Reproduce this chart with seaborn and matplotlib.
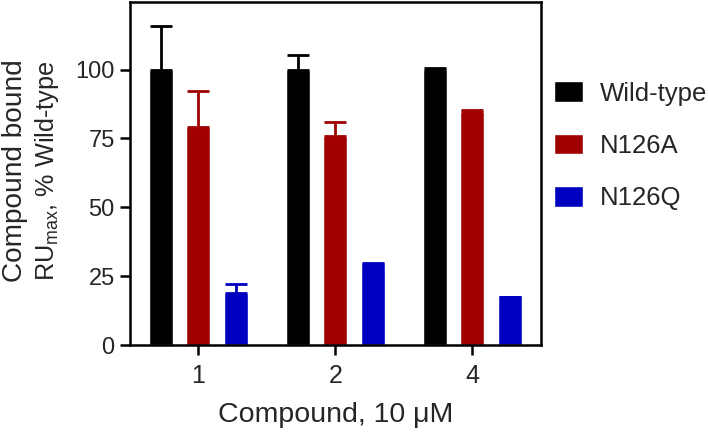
import matplotlib
matplotlib.use("Agg")
import matplotlib.pyplot as plt
import pandas as pd
import seaborn as sns

compounds = ["1", "2", "4"]
variants = ["Wild-type", "N126A", "N126Q"]
wild_type = [100.0, 100.0, 100.0]
wild_type_err = [15.7, 5.4, 0.7]
n126a = [79.3, 75.8, 84.5]
n126a_err = [13.1, 5.2, 1.0]
n126q = [18.9, 29.3, 17.3]
n126q_err = [3.2, 0.4, 0.3]
colors = {"Wild-type": "#000000", "N126A": "#A00000", "N126Q": "#0000C0"}


def main():
    sns.set_style("ticks")
    plt.rcParams["font.family"] = ["Liberation Sans", "DejaVu Sans"]
    plt.rcParams["mathtext.fontset"] = "custom"
    plt.rcParams["mathtext.rm"] = "Liberation Sans"
    plt.rcParams["mathtext.it"] = "Liberation Sans"

    values = {"Wild-type": wild_type, "N126A": n126a, "N126Q": n126q}
    errors = {"Wild-type": wild_type_err, "N126A": n126a_err, "N126Q": n126q_err}
    rows = []
    for v in variants:
        for c, val, err in zip(compounds, values[v], errors[v]):
            rows.append({"compound": c, "variant": v, "value": val, "err": err})
    df = pd.DataFrame(rows)

    fig = plt.figure(figsize=(7.08, 4.34), dpi=100)
    ax = fig.add_axes([0.1836, 0.205, 0.58, 0.79])
    sns.barplot(
        data=df, x="compound", y="value", hue="variant", order=compounds,
        hue_order=variants, palette=colors, width=0.82, gap=0.36,
        errorbar=None, saturation=1, ax=ax,
    )

    # upper-only error bars from each bar patch
    for cont, v in zip(ax.containers, variants):
        for patch, err in zip(cont.patches, errors[v]):
            xc = patch.get_x() + patch.get_width() / 2
            ax.errorbar(
                xc, patch.get_height(), yerr=[[0], [err]], fmt="none",
                ecolor=colors[v], elinewidth=2, capsize=8, capthick=2, zorder=3,
            )

    ax.set_xlim(-0.5, 2.5)
    ax.set_ylim(0, 124.5)
    ax.set_yticks([0, 25, 50, 75, 100])
    for s in ax.spines.values():
        s.set_linewidth(1.8)
        s.set_color("black")
    ax.tick_params(axis="both", width=1.8, length=7, color="black")
    ax.tick_params(axis="y", labelsize=17, pad=4)
    ax.tick_params(axis="x", labelsize=18, pad=7)
    ax.set_xlabel("Compound, 10 \u03bcM", fontsize=20.5, labelpad=10)
    ax.set_ylabel("")
    fig.text(0.021, 0.607, "Compound bound", rotation=90, fontsize=20.2,
             ha="center", va="center")
    fig.text(0.067, 0.607, "RU$_{\\mathrm{max}}$, % Wild-type", rotation=90,
             fontsize=18.2, ha="center", va="center")

    handles, labels = ax.get_legend_handles_labels()
    ax.legend(
        handles, labels, loc="upper left", bbox_to_anchor=(0.768, 0.836),
        bbox_transform=fig.transFigure, frameon=False, fontsize=18.5,
        handlelength=1.13, handleheight=0.85, handletextpad=0.66,
        labelspacing=1.1, borderaxespad=0,
    )

    fig.savefig("out.png", dpi=100)


if __name__ == "__main__":
    main()
